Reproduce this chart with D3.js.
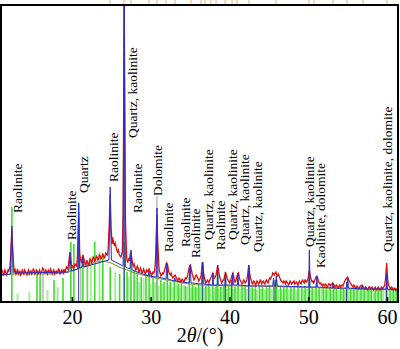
<!DOCTYPE html>
<html><head><meta charset="utf-8">
<script src="https://cdn.jsdelivr.net/npm/d3@7"></script>
<style>body{margin:0;background:#fff}svg{display:block}text{font-family:'Liberation Serif','Times New Roman',serif}</style>
</head><body><svg id="c" width="400" height="349"></svg>
<script>
// ---- data ----
const xTicks = [20, 30, 40, 50, 60];
const measured = [[11.0,29],[11.1,32],[11.2,31],[11.3,27],[11.4,28],[11.5,32],[11.6,30],[11.7,27],[11.8,29],[11.9,32],[12.0,31],[12.15,36],[12.3,60],[12.38,72],[12.46,58],[12.6,37],[12.7,30],[12.8,32],[12.9,28],[13.0,30],[13.1,33],[13.2,28],[13.3,30],[13.4,31],[13.5,27],[13.6,29],[13.7,32],[13.8,30],[13.9,28],[14.0,32],[14.1,30],[14.2,29],[14.3,27],[14.4,30],[14.5,32],[14.6,28],[14.7,30],[14.8,31],[14.9,28],[15.0,30],[15.1,33],[15.2,32],[15.3,28],[15.4,29],[15.5,32],[15.6,31],[15.7,28],[15.8,30],[15.9,32],[16.0,28],[16.1,30],[16.2,31],[16.3,34],[16.4,33],[16.5,29],[16.6,29],[16.7,32],[16.8,30],[16.9,28],[17.0,32],[17.1,30],[17.2,29],[17.3,33],[17.4,31],[17.5,28],[17.6,30],[17.7,32],[17.8,28],[17.9,30],[18.0,31],[18.1,29],[18.2,30],[18.3,33],[18.4,32],[18.5,28],[18.6,29],[18.7,32],[18.8,31],[18.9,29],[19.0,33],[19.1,30],[19.2,31],[19.3,35],[19.4,34],[19.5,33],[19.6,40],[19.76,49],[19.9,40],[20.0,35],[20.1,36],[20.2,33],[20.3,35],[20.4,38],[20.5,37],[20.6,36],[20.7,45],[20.86,90],[21.0,48],[21.1,42],[21.2,40],[21.3,43],[21.4,47],[21.5,44],[21.6,41],[21.7,37],[21.8,38],[21.9,41],[22.0,40],[22.1,37],[22.2,39],[22.3,43],[22.4,42],[22.5,39],[22.6,41],[22.7,45],[22.8,44],[22.9,41],[23.0,42],[23.1,46],[23.2,45],[23.3,42],[23.4,43],[23.5,47],[23.6,46],[23.7,43],[23.8,44],[23.9,48],[24.0,47],[24.1,44],[24.2,45],[24.3,49],[24.4,48],[24.5,47],[24.6,52],[24.75,80],[24.86,107],[24.97,75],[25.1,58],[25.2,63],[25.25,62],[25.3,59],[25.4,57],[25.5,59],[25.6,55],[25.7,52],[25.8,50],[25.9,52],[26.0,48],[26.1,46],[26.2,45],[26.3,47],[26.4,50],[26.5,90],[26.58,200],[26.64,300],[26.72,190],[26.8,80],[26.95,45],[27.0,41],[27.1,40],[27.2,43],[27.3,42],[27.45,50],[27.6,44],[27.7,39],[27.8,36],[27.9,38],[28.0,35],[28.1,32],[28.2,33],[28.3,36],[28.4,34],[28.5,30],[28.6,31],[28.7,34],[28.8,32],[28.9,29],[29.0,30],[29.1,33],[29.2,31],[29.3,28],[29.4,29],[29.5,32],[29.6,31],[29.7,30],[29.8,33],[29.9,31],[30.0,29],[30.1,26],[30.2,28],[30.3,30],[30.4,29],[30.5,31],[30.6,40],[30.72,70],[30.8,87],[30.9,60],[31.05,35],[31.1,31],[31.2,29],[31.3,26],[31.4,27],[31.5,29],[31.6,28],[31.7,30],[31.8,33],[31.9,36],[32.0,39],[32.15,37],[32.3,30],[32.4,28],[32.5,27],[32.6,29],[32.7,26],[32.8,24],[32.9,25],[33.0,26],[33.1,27],[33.2,25],[33.3,24],[33.4,21],[33.5,22],[33.6,24],[33.7,23],[33.8,20],[33.9,21],[34.0,23],[34.1,22],[34.2,20],[34.3,21],[34.4,24],[34.5,23],[34.6,24],[34.7,27],[34.8,31],[34.9,35],[35.05,37],[35.2,31],[35.3,27],[35.4,25],[35.5,22],[35.6,23],[35.7,26],[35.8,27],[35.9,25],[36.0,24],[36.1,21],[36.2,22],[36.3,24],[36.4,26],[36.55,40],[36.7,30],[36.8,25],[36.9,22],[37.0,19],[37.1,20],[37.2,22],[37.3,21],[37.4,19],[37.5,22],[37.6,24],[37.7,25],[37.8,27],[37.9,29],[38.0,26],[38.1,24],[38.2,25],[38.3,27],[38.4,31],[38.5,37],[38.6,32],[38.7,28],[38.8,24],[38.9,22],[39.0,19],[39.1,20],[39.2,22],[39.3,22],[39.4,26],[39.5,30],[39.6,27],[39.7,24],[39.8,22],[39.9,21],[40.0,19],[40.1,20],[40.2,23],[40.3,26],[40.45,29],[40.6,23],[40.7,20],[40.8,21],[40.9,24],[41.0,27],[41.15,29],[41.3,23],[41.4,21],[41.5,20],[41.6,18],[41.7,19],[41.8,22],[41.9,21],[42.0,19],[42.1,20],[42.2,22],[42.3,26],[42.45,37],[42.6,27],[42.7,23],[42.8,21],[42.9,18],[43.0,19],[43.1,21],[43.2,20],[43.3,17],[43.4,18],[43.5,21],[43.6,20],[43.7,18],[43.8,19],[43.9,22],[44.0,21],[44.1,18],[44.2,20],[44.3,21],[44.4,19],[44.5,18],[44.6,21],[44.7,22],[44.8,20],[44.9,19],[45.0,22],[45.1,24],[45.2,23],[45.3,25],[45.4,26],[45.5,29],[45.6,28],[45.7,27],[45.8,29],[45.9,30],[46.0,27],[46.1,26],[46.2,28],[46.3,26],[46.4,24],[46.5,22],[46.6,21],[46.7,20],[46.8,19],[46.9,21],[47.0,20],[47.1,18],[47.2,21],[47.3,20],[47.4,19],[47.5,17],[47.6,18],[47.7,21],[47.8,20],[47.9,18],[48.0,19],[48.1,20],[48.2,21],[48.3,18],[48.4,19],[48.5,20],[48.6,18],[48.7,17],[48.8,20],[48.9,21],[49.0,19],[49.1,18],[49.2,21],[49.3,22],[49.4,20],[49.5,19],[49.6,22],[49.7,21],[49.8,20],[49.9,22],[50.0,24],[50.14,32],[50.3,25],[50.4,22],[50.5,20],[50.6,21],[50.7,19],[50.8,21],[50.9,23],[51.0,25],[51.1,26],[51.2,24],[51.3,21],[51.4,19],[51.5,18],[51.6,19],[51.7,17],[51.8,16],[51.9,18],[52.0,17],[52.1,16],[52.2,18],[52.3,17],[52.4,15],[52.5,16],[52.6,18],[52.7,18],[52.8,16],[52.9,17],[53.0,18],[53.1,19],[53.2,18],[53.3,17],[53.4,15],[53.5,16],[53.6,17],[53.7,15],[53.8,14],[53.9,16],[54.0,17],[54.1,15],[54.2,16],[54.3,17],[54.4,16],[54.5,18],[54.6,20],[54.7,22],[54.8,23],[54.9,24],[55.0,25],[55.1,23],[55.2,21],[55.3,20],[55.4,18],[55.5,17],[55.6,16],[55.7,15],[55.8,17],[55.9,16],[56.0,14],[56.1,14],[56.2,16],[56.3,15],[56.4,13],[56.5,14],[56.6,16],[56.7,16],[56.85,17],[57.0,15],[57.1,14],[57.2,13],[57.3,15],[57.4,14],[57.5,12],[57.6,13],[57.7,15],[57.8,15],[57.9,13],[58.0,14],[58.1,15],[58.2,13],[58.3,12],[58.4,14],[58.5,15],[58.6,13],[58.7,12],[58.8,14],[58.9,15],[59.0,13],[59.1,12],[59.2,14],[59.3,15],[59.4,13],[59.5,14],[59.6,15],[59.7,17],[59.8,22],[59.96,39],[60.1,22],[60.2,17],[60.3,15],[60.4,14],[60.5,13],[60.6,15],[60.7,14],[60.8,12],[60.9,13],[61.0,14],[61.1,12],[61.2,13],[61.4,13]];
const calculated = [[11,27],[12.2,28],[12.32,60],[12.38,76],[12.44,60],[12.56,29],[19.6,30],[19.7,40],[19.76,50],[19.82,40],[19.95,31],[20.75,33],[20.82,70],[20.86,99],[20.9,70],[20.97,34],[21.3,35],[21.4,45],[21.5,35],[24.7,42],[24.8,80],[24.86,115],[24.92,80],[25.02,42],[26.5,36],[26.58,200],[26.64,296],[26.7,200],[26.78,35],[27.38,33],[27.45,44],[27.5,52],[27.56,44],[27.64,32],[29.7,26],[29.78,31],[29.86,26],[30.7,25],[30.76,70],[30.8,94],[30.84,70],[30.92,25],[31.95,23],[32.03,36],[32.06,39],[32.1,36],[32.18,23],[33.0,21],[33.08,24],[33.16,21],[34.9,19],[34.96,33],[35.0,37],[35.05,33],[35.12,19],[36.5,18],[36.57,36],[36.62,40],[36.68,36],[36.75,18],[37.85,17],[37.9,29],[37.96,17],[38.45,17],[38.5,37],[38.56,17],[39.45,17],[39.5,30],[39.56,17],[40.35,17],[40.42,29],[40.5,17],[41.0,17],[41.08,29],[41.15,17],[42.4,16],[42.47,37],[42.55,16],[45.5,16],[45.6,24],[45.7,16],[45.85,16],[45.95,26],[46.05,16],[50.1,15],[50.16,52],[50.22,15],[51.05,15],[51.1,26],[51.16,15],[53.08,14],[53.14,19],[53.2,14],[54.95,14],[55.02,24],[55.1,14],[56.78,13],[56.84,17],[56.9,13],[59.93,13],[59.98,28],[60.04,13],[61.4,12]];
const background = [[11,27],[13,28],[15,28],[17,28],[19,29],[20,31],[21,34],[22,37],[23,40],[24,41],[25,39],[26,35],[27,32],[28,29],[30,25],[32,22],[34,19],[36,17],[40,16],[44,16],[48,15],[52,14],[56,13],[61.4,12]];
const sticksBright = [[12.38,95],[15.57,28],[15.96,26],[17.73,22],[18.87,24],[19.87,60],[20.25,58],[21.4,47],[22.9,60],[23.93,47],[24.86,35],[26.06,28],[26.64,60],[27.0,30],[27.5,40],[27.9,32],[28.3,30],[28.8,25],[29.4,28],[29.8,26],[30.3,24],[30.8,30],[31.3,22],[31.7,20],[32.1,30],[32.5,20],[33.0,22],[33.5,18],[33.9,19],[34.4,16],[34.9,25],[35.3,17],[35.7,15],[36.1,18],[36.6,30],[37.0,16],[37.4,18],[37.9,24],[38.3,17],[38.5,30],[38.9,15],[39.3,17],[39.5,28],[39.9,16],[40.3,20],[40.7,15],[41.1,22],[41.6,16],[42.0,17],[42.45,28],[42.9,15],[43.3,16],[43.8,17],[44.2,15],[44.7,16],[45.1,17],[45.6,20],[46.0,22],[46.5,16],[46.9,15],[47.3,17],[47.8,16],[48.2,15],[48.7,17],[49.2,15],[49.6,16],[50.1,22],[50.5,15],[51.0,18],[51.4,14],[51.9,15],[52.3,14],[52.8,15],[53.2,16],[53.6,14],[54.1,15],[54.5,14],[54.9,18],[55.4,14],[55.8,15],[56.2,14],[56.7,15],[57.1,14],[57.6,13],[58.0,14],[58.5,13],[58.9,14],[59.3,13],[59.9,18],[60.4,13],[60.8,14],[61.2,13]];
const sticksLight = [[13.1,8],[14.6,10],[16.9,12],[18.2,15],[21.9,40],[22.4,45],[23.5,50],[25.5,30],[27.2,25],[28.0,22],[28.55,20],[29.1,24],[30.0,18],[30.55,20],[31.0,16],[31.5,18],[32.3,17],[32.8,15],[33.3,18],[33.7,14],[34.2,17],[34.6,15],[35.1,14],[35.5,16],[35.9,14],[36.3,15],[36.8,14],[37.2,15],[37.6,13],[38.1,14],[38.7,13],[39.1,15],[39.7,13],[40.1,14],[40.5,13],[40.9,14],[41.4,13],[41.8,14],[42.2,13],[42.7,14],[43.1,13],[43.5,12],[44.0,13],[44.45,12],[44.9,14],[45.35,13],[45.8,15],[46.25,13],[46.7,12],[47.1,13],[47.55,12],[48.0,13],[48.45,12],[48.9,13],[49.4,12],[49.85,13],[50.3,12],[50.75,13],[51.2,12],[51.65,13],[52.1,12],[52.55,13],[53.0,12],[53.4,13],[53.85,12],[54.3,13],[54.7,12],[55.15,13],[55.6,12],[56.0,13],[56.45,12],[56.9,13],[57.35,12],[57.8,13],[58.25,12],[58.7,13],[59.1,12],[59.55,13],[60.1,12],[60.6,13],[61.0,12]];
const sticksGrey = [[16.33,30],[21.13,45],[22.0,42],[30.8,106]];
const sticksQuartz = [[20.86,99],[26.64,300],[36.54,30],[39.47,24],[40.29,22],[42.45,28],[45.79,22],[50.14,52],[54.87,20],[59.96,28]];
const topMarks = [24.84,26.62,27.5,29.79,30.8,31.95,33.09,35.12,36.39,36.9,37.66,38.3,39.44,40.33,40.96,42.48,45.91,50.1,50.74,53.15,54.93,56.96,60.0];
const labelText = ["Raolinite","Raolinite","Quartz","Raolinite","Quartz, kaolinite","Raolinite","Dolomite","Raolinite","Raolinite","Raolinite","Quartz, kaolinite","Raolinite","Quartz, kaolinite","Quartz, kaolinite","Quartz, kaolinite","Quartz, kaolinite","Kaolinite, dolomite","Quartz, kaolinite, dolomite"];
const labelX = [13.03,19.89,21.41,25.22,27.63,28.27,30.8,32.2,34.36,35.63,37.28,38.8,40.33,41.85,43.5,50.1,51.5,60.0];
const labelY = [89,62,109,120,164,89,106,50,55,44,62,52,62,57,50,55,34,50];

// ---- chart ----
const FONT = "'Liberation Serif','Times New Roman',serif";
const svg = d3.select("#c");
const L = 1, R = 398, T = 5, B = 302;
const x = d3.scaleLinear().domain([11, 61.4]).range([L, R]);
const y = d3.scaleLinear().domain([0, 297]).range([B, T]);

svg.append("defs").append("clipPath").attr("id","clip")
  .append("rect").attr("x",L).attr("y",T).attr("width",R-L).attr("height",B-T);
const g = svg.append("g").attr("clip-path","url(#clip)");

function sticks(data, color, w){
  g.append("g").selectAll("line").data(data).join("line")
    .attr("x1",d=>x(d[0])).attr("x2",d=>x(d[0]))
    .attr("y1",y(0)).attr("y2",d=>y(d[1]))
    .attr("stroke",color).attr("stroke-width",w);
}
sticks(sticksLight, "#a6ee9a", 2);
sticks(sticksBright, "#3fdc2c", 1.6);
sticks(sticksGrey, "#a9a9a9", 1.2);

const line = d3.line().x(d=>x(d[0])).y(d=>y(d[1]));
g.append("path").datum(background).attr("d",line).attr("fill","none").attr("stroke","#8a9a30").attr("stroke-width",1.2);
g.append("path").datum(measured).attr("d",line).attr("fill","none").attr("stroke","#e01010").attr("stroke-width",1.3);
sticks(sticksQuartz, "#3a3aa8", 1);
g.append("path").datum(calculated).attr("d",line).attr("fill","none").attr("stroke","#2c2ccc").attr("stroke-width",1);

// top orange marks
svg.append("g").selectAll("line").data(topMarks).join("line")
  .attr("x1",d=>x(d)).attr("x2",d=>x(d)).attr("y1",0).attr("y2",T-1)
  .attr("stroke","#e8b468").attr("stroke-width",1);

// frame
svg.append("rect").attr("x",L).attr("y",T).attr("width",R-L).attr("height",B-T)
  .attr("fill","none").attr("stroke","#000").attr("stroke-width",2);

// axis
const ax = svg.append("g").attr("transform",`translate(0,${B})`)
  .call(d3.axisBottom(x).tickValues(xTicks).tickSizeInner(-5).tickSizeOuter(0).tickPadding(8).tickFormat(d3.format("d")));
ax.attr("font-family", null).attr("font-size", null);
ax.select(".domain").remove();
ax.selectAll("line").attr("stroke","#000").attr("stroke-width",1.5);
ax.selectAll("text").style("font-family",FONT).style("font-size","20px").attr("fill","#000");

const title = svg.append("text").attr("x",200).attr("y",342).attr("text-anchor","middle")
  .style("font-family",FONT).style("font-size","20px");
title.append("tspan").text("2");
title.append("tspan").attr("font-style","italic").text("θ");
title.append("tspan").text("/(°)");

// labels
svg.append("g").selectAll("text").data(labelText).join("text")
  .attr("transform",(d,i)=>`translate(${x(labelX[i])},${y(labelY[i])}) rotate(-90)`)
  .attr("dy","0.35em")
  .style("font-family",FONT).style("font-size","13.5px")
  .attr("fill","#000").text(d=>d);
</script></body></html>
